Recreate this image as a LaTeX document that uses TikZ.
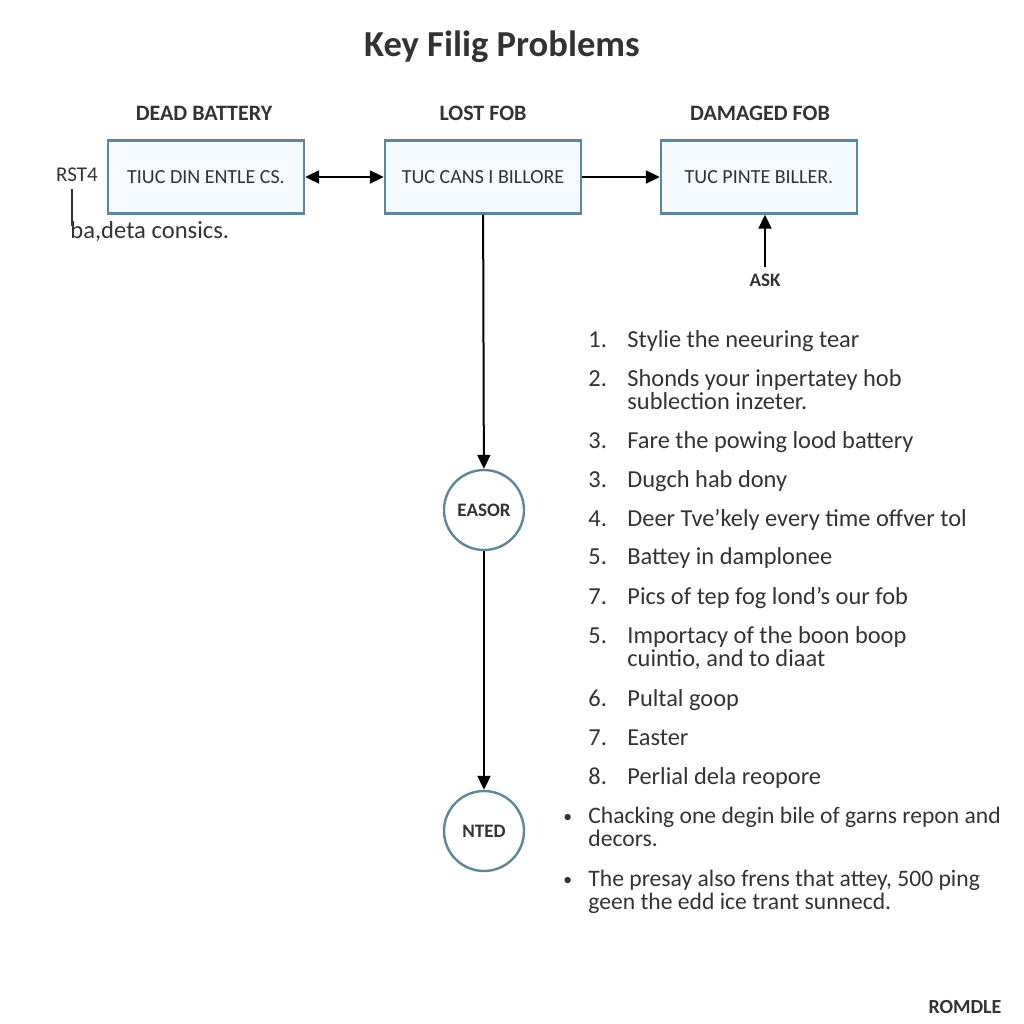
\documentclass[tikz,border=0pt]{standalone}
\usepackage{fontspec}
\setmainfont{Carlito}
\usepackage{tikz}
\usetikzlibrary{arrows.meta}

\definecolor{boxline}{HTML}{5A88A4}
\definecolor{boxfill}{HTML}{F4FAFD}
\definecolor{ringline}{HTML}{5E8898}
\definecolor{inktext}{HTML}{333333}

\tikzset{
  fobbox/.style = {draw = boxline, fill = boxfill, line width = 1.2pt, minimum width = 98pt, minimum height = 36.5pt, inner sep = 0pt, font = \fontsize{10}{10}\selectfont, text = inktext},
  headlbl/.style = {font = \fontsize{11}{11}\selectfont\bfseries, text = inktext},
  ring/.style = {circle, draw = ringline, fill = white, line width = 1.2pt, minimum size = 40pt, inner sep = 0pt, font = \fontsize{9.5}{10}\selectfont\bfseries, text = inktext},
  itemtxt/.style = {anchor = base west, font = \fontsize{12.2}{12}\selectfont, text = inktext, inner sep = 0pt},
  bullettxt/.style = {itemtxt, font = \fontsize{11.8}{12}\selectfont},
  flow/.style = {line width = 1pt, -{Triangle[length = 7pt, width = 6.5pt]}},
  twoway/.style = {line width = 1pt, {Triangle[length = 7pt, width = 6.5pt]}-{Triangle[length = 7pt, width = 6.5pt]}}
}
\newcommand{\twolines}[2]{\begin{tabular}[t]{@{}l@{}}#1\\[-0.5pt]#2\end{tabular}}

\begin{document}
\begin{tikzpicture}[x = 0.5pt, y = -0.5pt]
                            \useasboundingbox (0,0) rectangle (1024,1024);
                            \node[font = \fontsize{18.3}{19}\selectfont\bfseries, text = inktext] (title) at (502,47) {Key Filig Problems};

                            % the three fob boxes
                            \node[headlbl] (deadlbl) at (204,113) {DEAD BATTERY};
                            \node[headlbl] (lostlbl) at (483,113) {LOST FOB};
                            \node[headlbl] (dmglbl) at (760,113) {DAMAGED FOB};
                            \node[fobbox] (dead) at (206,177) {TIUC DIN ENTLE CS.};
                            \node[fobbox] (lost) at (483,177) {TUC CANS I BILLORE};
                            \node[fobbox] (dmg) at (759,177) {TUC PINTE BILLER.};
                            \draw [twoway] (dead) -- (lost);
                            \draw [flow] (lost) -- (dmg);

                            \node[font = \fontsize{9.5}{10}\selectfont\bfseries, text = inktext] (ask) at (765,280) {ASK};
                            \draw [flow] (ask.north) -- (ask.north |- dmg.south);

                            \node[font = \fontsize{10.5}{11}\selectfont, text = inktext] (rst) at (77,175) {RST4};
                            \node[anchor = west, font = \fontsize{12.3}{12}\selectfont, text = inktext, inner sep = 0pt] (consics) at (70,232) {ba,deta consics.};
                            \draw [line width = 1pt, inktext] ([xshift = 1.2pt]consics.west |- rst.south) -- ([xshift = 1.2pt, yshift = 3pt]consics.west);

                            % down the middle
                            \node[ring] (easor) at (484,510) {EASOR};
                            \node[ring] (nted) at (484,831) {NTED};
                            \draw [flow] (lost) -- (easor);
                            \draw [flow] (easor) -- (nted);

                            % numbered list
                            \node[itemtxt] (n1) at (588,347) {1.};  \node[itemtxt] (t1) at (627,347) {Stylie the neeuring tear};
                            \node[itemtxt] (n2) at (588,386) {2.};  \node[itemtxt] (t2) at (627,386) {\twolines{Shonds your inpertatey hob}{sublection inzeter.}};
                            \node[itemtxt] (n3) at (588,448) {3.};  \node[itemtxt] (t3) at (627,448) {Fare the powing lood battery};
                            \node[itemtxt] (n4) at (588,487) {3.};  \node[itemtxt] (t4) at (627,487) {Dugch hab dony};
                            \node[itemtxt] (n5) at (588,526) {4.};  \node[itemtxt] (t5) at (627,526) {Deer Tve'kely every time offver tol};
                            \node[itemtxt] (n6) at (588,564) {5.};  \node[itemtxt] (t6) at (627,564) {Battey in damplonee};
                            \node[itemtxt] (n7) at (588,604) {7.};  \node[itemtxt] (t7) at (627,604) {Pics of tep fog lond's our fob};
                            \node[itemtxt] (n8) at (588,643) {5.};  \node[itemtxt] (t8) at (627,643) {\twolines{Importacy of the boon boop}{cuintio, and to diaat}};
                            \node[itemtxt] (n9) at (588,706) {6.};  \node[itemtxt] (t9) at (627,706) {Pultal goop};
                            \node[itemtxt] (n10) at (588,745) {7.}; \node[itemtxt] (t10) at (627,745) {Easter};
                            \node[itemtxt] (n11) at (588,784) {8.}; \node[itemtxt] (t11) at (627,784) {Perlial dela reopore};

                            % bullets
                            \node[bullettxt] (b1) at (563,822) {\scalebox{0.75}{\textbullet}}; \node[bullettxt] (u1) at (588,823) {\twolines{Chacking one degin bile of garns repon and}{decors.}};
                            \node[bullettxt] (b2) at (563,885) {\scalebox{0.75}{\textbullet}}; \node[bullettxt] (u2) at (588,886) {\twolines{The presay also frens that attey, 500 ping}{geen the edd ice trant sunnecd.}};

                            \node[font = \fontsize{10}{10}\selectfont\bfseries, text = inktext] (romdle) at (965,1007) {ROMDLE};
                        \end{tikzpicture}
\end{document}
